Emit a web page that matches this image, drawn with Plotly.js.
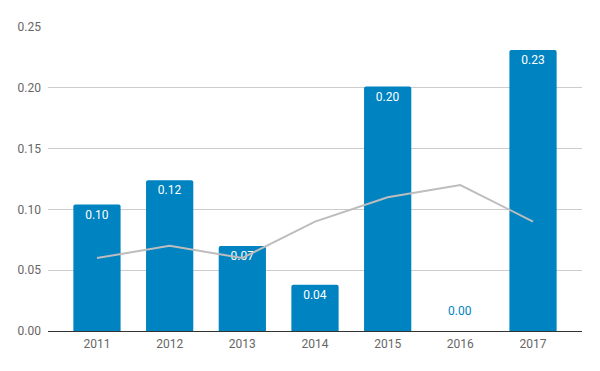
<!DOCTYPE html>
<html>
<head>
<meta charset="utf-8">
<script src="https://cdn.plot.ly/plotly-3.0.1.min.js"></script>
<style>html,body{margin:0;padding:0;background:#fff;}#chart{width:600px;height:371px;}</style>
</head>
<body>
<div id="chart"></div>
<script>
const years = ['2011', '2012', '2013', '2014', '2015', '2016', '2017'];
const barValues = [0.104, 0.124, 0.070, 0.038, 0.201, 0.0, 0.231];
const lineValues = [0.060, 0.070, 0.060, 0.090, 0.110, 0.120, 0.090];
const yTicks = [0, 0.05, 0.10, 0.15, 0.20, 0.25];

const barColor = '#0083C1';
const labels = barValues.map(v => v.toFixed(2));

const annotations = [];
barValues.forEach((v, i) => {
  if (v === 0) {
    annotations.push({
      x: i, y: v, xref: 'x', yref: 'y',
      text: labels[i], showarrow: false, yshift: 20,
      font: {family: 'Roboto, sans-serif', size: 12, color: barColor}
    });
  }
});

const traces = [
  {
    type: 'bar',
    x: years,
    y: barValues,
    width: 0.65,
    marker: {color: barColor, cornerradius: 2},
    text: labels.map((t, i) => barValues[i] === 0 ? '' : t),
    textposition: 'inside',
    insidetextanchor: 'end',
    textangle: 0,
    constraintext: 'none',
    textfont: {family: 'Roboto, sans-serif', size: 12, color: '#ffffff'},
    hoverinfo: 'skip'
  },
  {
    type: 'scatter',
    mode: 'lines',
    x: years,
    y: lineValues,
    line: {color: '#BDBDBD', width: 2},
    hoverinfo: 'skip'
  }
];

const layout = {
  width: 600, height: 371,
  margin: {l: 48, r: 18, t: 27, b: 40},
  paper_bgcolor: '#ffffff', plot_bgcolor: '#ffffff',
  showlegend: false,
  font: {family: 'Roboto, sans-serif', size: 12, color: '#666666'},
  xaxis: {
    type: 'category',
    range: [-0.674, 6.674],
    showgrid: false,
    zeroline: false,
    showline: false,
    ticks: '',
    ticklabelstandoff: 4,
    tickfont: {family: 'Roboto, sans-serif', size: 12, color: '#666666'},
    fixedrange: true
  },
  yaxis: {
    range: [0, 0.25],
    tickvals: yTicks,
    tickformat: '.2f',
    showgrid: true,
    gridcolor: '#CCCCCC',
    gridwidth: 1,
    zeroline: true,
    zerolinecolor: '#333333',
    zerolinewidth: 1,
    showline: false,
    ticks: '',
    ticklabelstandoff: 6,
    tickfont: {family: 'Roboto, sans-serif', size: 12, color: '#666666'},
    fixedrange: true
  },
  annotations: annotations
};

Plotly.newPlot('chart', traces, layout, {displayModeBar: false, staticPlot: true});
</script>
</body>
</html>
